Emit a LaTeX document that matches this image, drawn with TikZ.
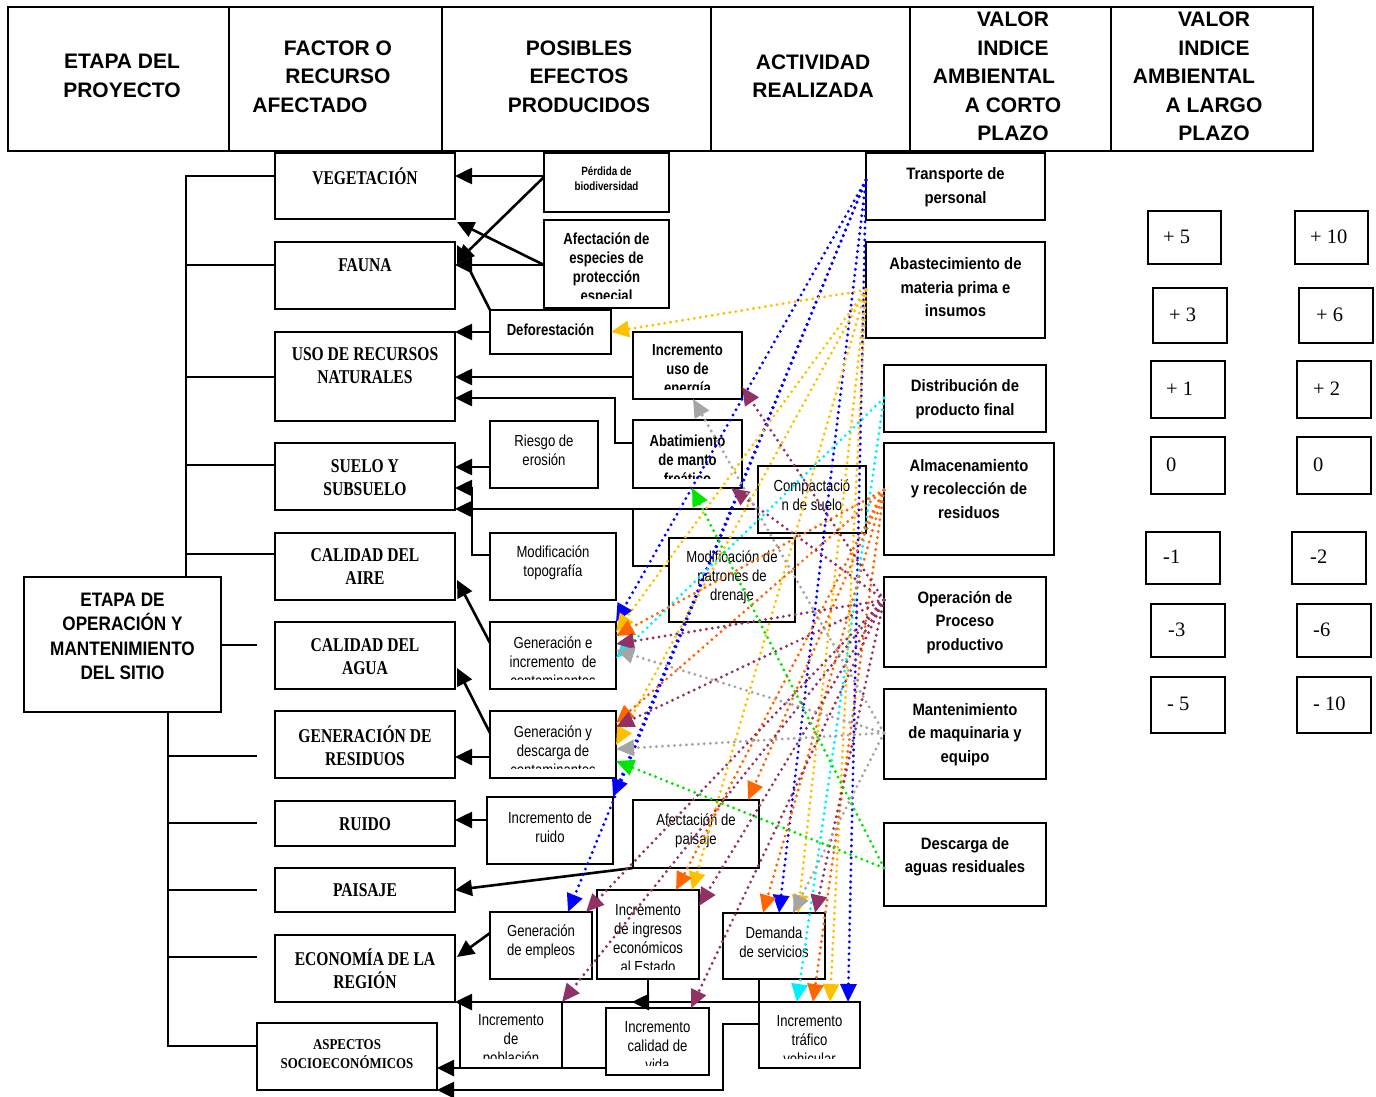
\documentclass[tikz,border=0pt]{standalone}
\usepackage{fontspec}
\setmainfont{Liberation Serif}
\newfontfamily\hsans{Liberation Sans}
\newfontfamily\nsans[FakeStretch=0.82]{Liberation Sans}
\newfontfamily\asans[FakeStretch=0.9]{Liberation Sans}
\newfontfamily\esans[FakeStretch=0.88]{Liberation Sans}
\newfontfamily\fserifb[FakeStretch=0.8]{Liberation Serif}
\newfontfamily\gserifb[FakeStretch=0.86]{Liberation Serif}
\usetikzlibrary{arrows.meta,calc}
\definecolor{cblue}{RGB}{0,0,255}
\definecolor{cgold}{RGB}{255,192,0}
\definecolor{ccyan}{RGB}{0,240,255}
\definecolor{corange}{RGB}{255,102,0}
\definecolor{cplum}{RGB}{146,50,100}
\definecolor{cgray}{RGB}{165,165,165}
\definecolor{cgreen}{RGB}{0,230,0}
\newcommand\fHdr{\hsans\bfseries\fontsize{21}{28.5}\selectfont}
\newcommand\fEtapa{\esans\bfseries\fontsize{19.5}{24.3}\selectfont}
\newcommand\fFac{\fserifb\bfseries\fontsize{19.5}{23}\selectfont}
\newcommand\fAsp{\gserifb\bfseries\fontsize{15}{18.5}\selectfont}
\newcommand\fEb{\nsans\bfseries\fontsize{16}{19}\selectfont}
\newcommand\fEr{\nsans\fontsize{16}{19}\selectfont}
\newcommand\fEs{\nsans\bfseries\fontsize{12}{15}\selectfont}
\newcommand\fAct{\asans\bfseries\fontsize{16.5}{23.5}\selectfont}
\newcommand\fVal{\rmfamily\fontsize{20.5}{24}\selectfont}
\tikzset{
 bx/.style={draw, line width=2pt, fill=white, inner sep=0pt, outer sep=0pt},
 hd/.style={draw, line width=2pt, inner sep=0pt, outer sep=0pt},
 txt/.style={inner sep=0pt, align=center},
 ln/.style={line width=2pt},
 ar/.style={line width=2.6pt, -{Triangle[length=17pt,width=16pt]}},
 dl/.style={line width=3.2pt, line cap=round, dash pattern=on 0pt off 6pt, -{Triangle[length=18pt,width=16pt]}},
}
\newcommand\tbox[8]{%
 \node[bx, minimum width=#4-#2, minimum height=#5-#3] (#1) at ({(#2+#4)/2},{(#3+#5)/2}) {};
 \begin{scope}
 \clip ($(#1.north west)+(1,1)$) rectangle ($(#1.south east)+(-1,-10)$);
 \node[txt, font=#6] at ({(#2+#4)/2},#7) {#8};
 \end{scope}}
\newcommand\valbx[7]{%
 \node[bx, minimum width=#4-#2, minimum height=#5-#3] (#1) at ({(#2+#4)/2},{(#3+#5)/2}) {};
 \node[txt, font=\fVal, anchor=west] at (#6,{(#3+#5)/2-1}) {#7};}
\begin{document}
\begin{tikzpicture}[x=1pt,y=-1pt]
\useasboundingbox (0,0) rectangle (1376,1097);
% header table
\node[hd, minimum width=221, minimum height=144] (h1) at (118.5,79) {};
\node[hd, minimum width=213, minimum height=144] (h2) at (335.5,79) {};
\node[hd, minimum width=269, minimum height=144] (h3) at (576.5,79) {};
\node[hd, minimum width=199, minimum height=144] (h4) at (810.5,79) {};
\node[hd, minimum width=201, minimum height=144] (h5) at (1010.5,79) {};
\node[hd, minimum width=202, minimum height=144] (h6) at (1212,79) {};
\node[txt, font=\fHdr] (t1) at (122,76) {ETAPA DEL\\PROYECTO};
\node[txt, font=\fHdr] (t2a) at (338,48) {FACTOR O};
\node[txt, font=\fHdr] (t2b) at (338,76) {RECURSO};
\node[txt, font=\fHdr] (t2c) at (310,105) {AFECTADO};
\node[txt, font=\fHdr] (t3) at (579,76.5) {POSIBLES\\EFECTOS\\PRODUCIDOS};
\node[txt, font=\fHdr] (t4) at (813,76) {ACTIVIDAD\\REALIZADA};
\node[txt, font=\fHdr] (t5a) at (1013,19) {VALOR};
\node[txt, font=\fHdr] (t5b) at (1013,48) {INDICE};
\node[txt, font=\fHdr] (t5c) at (994,76) {AMBIENTAL};
\node[txt, font=\fHdr] (t5d) at (1013,105) {A CORTO};
\node[txt, font=\fHdr] (t5e) at (1013,133) {PLAZO};
\node[txt, font=\fHdr] (t6a) at (1214,19) {VALOR};
\node[txt, font=\fHdr] (t6b) at (1214,48) {INDICE};
\node[txt, font=\fHdr] (t6c) at (1194,76) {AMBIENTAL};
\node[txt, font=\fHdr] (t6d) at (1214,105) {A LARGO};
\node[txt, font=\fHdr] (t6e) at (1214,133) {PLAZO};
% stage box
\tbox{etapa}{24}{577}{221}{712}{\fEtapa}{636.5}{ETAPA DE\\OPERACIÓN Y\\MANTENIMIENTO\\DEL SITIO}
% factors
\tbox{veg}{275}{153}{455}{219}{\fFac}{176}{VEGETACIÓN}
\tbox{fau}{275}{242}{455}{309}{\fFac}{265}{FAUNA}
\tbox{uso}{275}{332}{455}{421}{\fFac}{365.5}{USO DE RECURSOS\\NATURALES}
\tbox{sue}{275}{443}{455}{510}{\fFac}{477.5}{SUELO Y\\SUBSUELO}
\tbox{air}{275}{533}{455}{600}{\fFac}{566.5}{CALIDAD DEL\\AIRE}
\tbox{agu}{275}{622}{455}{689}{\fFac}{656.5}{CALIDAD DEL\\AGUA}
\tbox{res}{275}{711}{455}{778}{\fFac}{745.5}{GENERACIÓN DE\\RESIDUOS}
\tbox{rui}{275}{801}{455}{846}{\fFac}{824}{RUIDO}
\tbox{pai}{275}{868}{455}{912}{\fFac}{890}{PAISAJE}
\tbox{eco}{275}{935}{455}{1002}{\fFac}{968.5}{ECONOMÍA DE LA\\REGIÓN}
\tbox{asp}{257}{1023}{437}{1090}{\fAsp}{1054}{ASPECTOS\\SOCIOECONÓMICOS}
% effects
\tbox{per}{544}{153}{669}{212}{\fEs}{178.5}{Pérdida de\\biodiversidad}
\tbox{afe}{544}{220}{669}{308}{\fEb}{268.5}{Afectación de\\especies de\\protección\\especial}
\tbox{def}{490}{310}{611}{354}{\fEb}{330}{Deforestación}
\tbox{ene}{633}{332}{742}{399}{\fEb}{371}{Incremento\\uso de\\energía}
\tbox{rie}{490}{421}{598}{488}{\fEr}{450.5}{Riesgo de\\erosión}
\tbox{aba}{633}{420}{742}{488}{\fEb}{460}{Abatimiento\\de manto\\freático}
\tbox{com}{758}{466}{866}{533}{\fEr}{495.5}{Compactació\\n de suelo}
\tbox{topo}{490}{533}{616}{600}{\fEr}{562.5}{Modificación\\topografía}
\tbox{dre}{669}{538}{795}{622}{\fEr}{577}{Modificación de\\patrones de\\drenaje}
\tbox{gi}{490}{622}{616}{689}{\fEr}{662}{Generación e\\incremento~ de\\contaminantes}
\tbox{gd}{490}{711}{616}{778}{\fEr}{751}{Generación y\\descarga de\\contaminantes}
\tbox{ir}{487}{797}{613}{864}{\fEr}{827.5}{Incremento de\\ruido}
\tbox{ap}{633}{800}{759}{868}{\fEr}{830.5}{Afectación de\\paisaje}
\tbox{emp}{490}{912}{592}{979}{\fEr}{941.5}{Generación\\de empleos}
\tbox{ing}{597}{890}{699}{979}{\fEr}{938.5}{Incremento\\de ingresos\\económicos\\al Estado}
\tbox{dem}{723}{913}{825}{979}{\fEr}{942}{Demanda\\de servicios}
\tbox{pob}{460}{1002}{562}{1068}{\fEr}{1040.5}{Incremento\\de\\población}
\tbox{cal}{606}{1008}{709}{1075}{\fEr}{1046.5}{Incremento\\calidad de\\vida}
\tbox{tra}{759}{1002}{860}{1068}{\fEr}{1040.5}{Incremento\\tráfico\\vehicular}
% activities
\tbox{tp}{866}{153}{1045}{220}{\fAct}{187}{Transporte de\\personal}
\tbox{ab}{866}{242}{1045}{338}{\fAct}{287.5}{Abastecimiento de\\materia prima e\\insumos}
\tbox{di}{884}{365}{1046}{432}{\fAct}{399}{Distribución de\\producto final}
\tbox{al}{884}{443}{1054}{555}{\fAct}{489}{Almacenamiento\\y recolección de\\residuos}
\tbox{op}{884}{577}{1046}{667}{\fAct}{622.5}{Operación de\\Proceso\\productivo}
\tbox{ma}{884}{689}{1046}{779}{\fAct}{734.5}{Mantenimiento\\de maquinaria y\\equipo}
\tbox{de}{884}{823}{1046}{906}{\fAct}{857}{Descarga de\\aguas residuales}
% value boxes
\valbx{v1}{1148}{211}{1221}{264}{1163}{+ 5}
\valbx{v2}{1153}{288}{1227}{343}{1169}{+ 3}
\valbx{v3}{1151}{361}{1225}{418}{1166}{+ 1}
\valbx{v4}{1151}{437}{1225}{494}{1166}{0}
\valbx{v5}{1146}{532}{1220}{584}{1163}{-1}
\valbx{v6}{1151}{604}{1225}{657}{1168}{-3}
\valbx{v7}{1151}{677}{1225}{733}{1167}{- 5}
\valbx{w1}{1295}{211}{1368}{264}{1310}{+ 10}
\valbx{w2}{1299}{288}{1373}{343}{1316}{+ 6}
\valbx{w3}{1297}{361}{1371}{418}{1313}{+ 2}
\valbx{w4}{1297}{437}{1371}{494}{1313}{0}
\valbx{w5}{1292}{532}{1366}{584}{1310}{-2}
\valbx{w6}{1297}{604}{1371}{657}{1313}{-6}
\valbx{w7}{1297}{677}{1371}{733}{1313}{- 10}
% left bus
\draw[ln] ($(veg.north west)+(0,23)$) -| ($(etapa.north west)+(162,0)$);
\draw[ln] ($(fau.north west)+(0,23)$) -- ++(-89,0);
\draw[ln] ($(uso.north west)+(0,45)$) -- ++(-89,0);
\draw[ln] ($(sue.north west)+(0,22)$) -- ++(-89,0);
\draw[ln] ($(air.north west)+(0,21)$) -- ++(-89,0);
\draw[ln] ($(etapa.north east)+(0,68)$) -- ++(36,0);
\draw[ln] ($(etapa.south west)+(144,0)$) |- ($(asp.north west)+(0,23)$);
\draw[ln] ($(etapa.south west)+(144,44)$) -- ++(89,0);
\draw[ln] ($(etapa.south west)+(144,111)$) -- ++(89,0);
\draw[ln] ($(etapa.south west)+(144,178)$) -- ++(89,0);
\draw[ln] ($(etapa.south west)+(144,245)$) -- ++(89,0);
% black effect -> factor arrows
\draw[ar] ($(per.north west)+(0,23)$) -- ($(veg.north east)+(0,23)$);
\draw[ar] ($(per.north west)+(0,24)$) -- ($(fau.north east)+(2,20)$);
\draw[ar] ($(afe.north west)+(0,45)$) -- ($(fau.north east)+(0,23)$);
\draw[ar] ($(afe.north west)+(0,45)$) -- ($(veg.south east)+(2,3)$);
\draw[ar] (def.north west) -- ($(fau.north east)+(2,3)$);
\draw[ar] (def.west) -- (def.west -| uso.east);
\draw[ar] ($(ene.north west)+(0,45)$) -- ($(uso.north east)+(0,45)$);
\draw[ar] ($(aba.north west)+(0,23)$) -| ($(uso.north east)+(160,66)$) -- ($(uso.north east)+(0,66)$);
\draw[ar] ($(rie.north west)+(0,46)$) -- ($(sue.north east)+(0,24)$);
\draw[ar] ($(topo.north west)+(0,22)$) -| ($(sue.north east)+(17,45)$) -- ($(sue.north east)+(0,45)$);
\draw[ar] ($(com.north west)+(0,43)$) -- ($(sue.north east)+(0,66)$);
\draw[ln] ($(dre.north west)+(0,28)$) -| ($(com.north west)+(-125,43)$);
\draw[ar] ($(gi.north west)+(0,21)$) -- ($(air.south east)+(2,-20)$);
\draw[ar] ($(gd.north west)+(0,22)$) -- ($(agu.south east)+(2,-21)$);
\draw[ar] ($(gd.north west)+(0,46)$) -- ($(res.north east)+(0,46)$);
\draw[ar] ($(ir.north west)+(0,23)$) -- ($(rui.north east)+(0,19)$);
\draw[ar] (ap.south west) -- ($(pai.north east)+(0,22)$);
\draw[ar] ($(emp.north west)+(0,21)$) -- ($(eco.north east)+(2,22)$);
\draw[ar] (tra.north east) -- (eco.south east);
\draw[ar] (ing.south) |- ($(ing.south |- tra.north)+(-16,0)$);
\draw[ln] (tra.north west |- dem.south) -- (tra.north west);
\draw[ar] ($(cal.north west)+(0,60)$) -- ($(asp.north east)+(0,45)$);
\draw[ar] ($(tra.north west)+(0,22)$) -- ++(-36,0) |- (asp.south east);
% dotted: transporte (blue)
\draw[dl,cblue] ($(tp.north west)+(0,27)$) -- (gi.north east);
\draw[dl,cblue] ($(tp.north west)+(0,27)$) -- (ir.north east);
\draw[dl,cblue] ($(tp.north west)+(0,27)$) -- ($(emp.north west)+(78,0)$);
\draw[dl,cblue] ($(tp.north west)+(0,27)$) -- ($(dem.north west)+(56,0)$);
\draw[dl,cblue] ($(tp.north west)+(0,27)$) -- ($(tra.north west)+(89,0)$);
% abastecimiento (gold)
\draw[dl,cgold] ($(ab.north west)+(0,48)$) -- (def.east);
\draw[dl,cgold] ($(ab.north west)+(0,48)$) -- ($(gi.north east)+(0,10)$);
\draw[dl,cgold] ($(ab.north west)+(0,48)$) -- ($(gd.north east)+(0,34)$);
\draw[dl,cgold] ($(ab.north west)+(0,48)$) -- ($(ing.north west)+(95,0)$);
\draw[dl,cgold] ($(ab.north west)+(0,48)$) -- ($(dem.north west)+(75,0)$);
\draw[dl,cgold] ($(ab.north west)+(0,48)$) -- ($(tra.north west)+(71,0)$);
% distribucion (cyan)
\draw[dl,ccyan] ($(di.north west)+(0,33)$) -- ($(gi.north east)+(0,36)$);
\draw[dl,ccyan] ($(di.north west)+(0,33)$) -- ($(tra.north west)+(38,0)$);
% almacenamiento (orange)
\draw[dl,corange] ($(al.north west)+(0,47)$) -- ($(gi.north east)+(0,14)$);
\draw[dl,corange] ($(al.north west)+(0,47)$) -- ($(gd.north east)+(0,12)$);
\draw[dl,corange] ($(al.north west)+(0,47)$) -- ($(ap.north west)+(115,0)$);
\draw[dl,corange] ($(al.north west)+(0,47)$) -- ($(ing.north west)+(79,0)$);
\draw[dl,corange] ($(al.north west)+(0,47)$) -- ($(dem.north west)+(40,0)$);
\draw[dl,corange] ($(al.north west)+(0,47)$) -- ($(tra.north west)+(54,0)$);
% operacion (plum)
\draw[dl,cplum] ($(op.north west)+(0,23)$) -- ($(ene.north east)+(0,55)$);
\draw[dl,cplum] ($(op.north west)+(0,23)$) -- ($(aba.south east)+(-11,0)$);
\draw[dl,cplum] ($(op.north west)+(0,23)$) -- ($(gi.north east)+(0,22)$);
\draw[dl,cplum] ($(op.north west)+(0,23)$) -- ($(gd.north east)+(0,16)$);
\draw[dl,cplum] ($(op.north west)+(0,23)$) -- ($(emp.north west)+(96,0)$);
\draw[dl,cplum] ($(op.north west)+(0,23)$) -- ($(ing.north east)+(0,16)$);
\draw[dl,cplum] ($(op.north west)+(0,23)$) -- ($(dem.north west)+(92,0)$);
\draw[dl,cplum] ($(op.north west)+(0,23)$) -- (pob.north east);
\draw[dl,cplum] ($(op.north west)+(0,23)$) -- ($(cal.north west)+(85,0)$);
% mantenimiento (gray)
\draw[dl,cgray] ($(ma.north west)+(0,44)$) -- ($(ene.south west)+(60,0)$);
\draw[dl,cgray] ($(ma.north west)+(0,44)$) -- ($(gi.north east)+(0,28)$);
\draw[dl,cgray] ($(ma.north west)+(0,44)$) -- ($(gd.north east)+(0,38)$);
\draw[dl,cgray] ($(ma.north west)+(0,44)$) -- ($(dem.north west)+(70,0)$);
% descarga (green)
\draw[dl,cgreen] ($(de.north west)+(0,45)$) -- ($(aba.south west)+(59,0)$);
\draw[dl,cgreen] ($(de.north west)+(0,45)$) -- ($(gd.north east)+(0,50)$);
\end{tikzpicture}
\end{document}
